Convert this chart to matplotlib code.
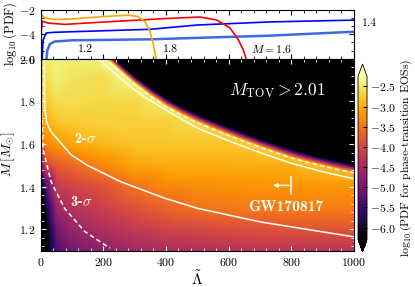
import numpy as np
import matplotlib
matplotlib.use('Agg')
import matplotlib.pyplot as plt
import matplotlib.tri as mtri
from matplotlib.ticker import MultipleLocator

plt.rcParams['font.family'] = 'serif'
plt.rcParams['font.serif'] = ['cmr10']
plt.rcParams['mathtext.fontset'] = 'cm'
plt.rcParams['axes.formatter.use_mathtext'] = True
plt.rcParams['font.size'] = 8.5

# ---------------------------------------------------------------
# top panel: log10 PDF of Lambda for fixed masses
lam_m12 = [18, 22, 30, 45, 100, 350, 500, 730, 1000]
pdf_m12 = [-6.2, -5.3, -4.8, -4.6, -4.5, -4.42, -4.3, -4.12, -3.8]
lam_m14 = [5, 8, 18, 40, 100, 200, 350, 500, 730, 1000]
pdf_m14 = [-6.2, -4.5, -3.9, -3.85, -3.8, -3.72, -3.6, -3.25, -3.0, -2.85]
lam_m16 = [1, 3, 6, 24, 77, 152, 311, 400, 509, 562, 604, 631, 647, 658]
pdf_m16 = [-6.2, -3.6, -2.95, -3.09, -3.2, -3.08, -2.85, -2.72, -2.6, -2.84, -3.48, -4.45, -5.29, -6.2]
lam_m18 = [0, 3, 13, 45, 98, 205, 279, 311, 332, 348, 359, 366, 371]
pdf_m18 = [-2.05, -2.4, -2.65, -2.8, -2.76, -2.55, -2.45, -2.55, -2.95, -3.7, -4.7, -5.6, -6.2]

# ---------------------------------------------------------------
# main panel: log10 PDF over (Lambda, M), NaN = too close to the edge
lam_grid = [0, 15, 50, 100, 200, 300, 400, 500, 600, 700, 800, 900, 1000]
m_grid = [1.1, 1.2, 1.3, 1.4, 1.5, 1.6, 1.7, 1.8, 1.9, 2.0]
nan = np.nan
pdf_grid = [
    [-6.8, -6.3, -5.3, -5.0, -4.75, -4.55, -4.45, -4.4, -4.35, -4.3, -4.3, -4.3, -4.3],
    [-6.8, -6.3, -5.0, -4.65, -4.4, -4.2, -4.05, -3.97, -3.92, -3.88, -3.85, -3.82, -3.8],
    [-6.8, -6.0, -4.6, -4.35, -4.1, -3.85, -3.65, -3.5, -3.45, -3.42, -3.4, -3.4, -3.4],
    [-6.5, -5.3, -4.2, -4.05, -3.85, -3.5, -3.32, -3.25, -3.22, -3.2, -3.2, -3.18, -3.18],
    [-5.0, -4.0, -3.75, -3.6, -3.3, -3.05, -3.0, -3.0, -3.0, -3.0, -2.98, nan, nan],
    [-3.4, -3.3, -3.15, -3.05, -2.9, -2.8, -2.8, -2.8, -2.8, nan, nan, -7, -7],
    [-3.2, -3.0, -2.8, -2.75, -2.7, -2.72, -2.72, nan, nan, -7, -7, -7, -7],
    [-3.0, -2.75, -2.6, -2.6, -2.65, -2.65, nan, -7, -7, -7, -7, -7, -7],
    [-2.9, -2.6, -2.45, -2.55, -2.6, nan, -7, -7, -7, -7, -7, -7, -7],
    [-2.9, -2.5, -2.4, -2.45, nan, -7, -7, -7, -7, -7, -7, -7, -7],
]

# edge of the allowed region: bright on the dashed line, dark a little above it
edge_lam = [185, 205, 230, 260, 300, 350, 400, 450, 500, 550, 600, 650, 700, 750,
            800, 850, 900, 950, 1000, 1040]
edge_m_bright = [2.03, 2.0, 1.97, 1.93, 1.88, 1.825, 1.775, 1.735, 1.70, 1.67, 1.64, 1.612,
                 1.585, 1.56, 1.535, 1.515, 1.497, 1.48, 1.465, 1.455]
edge_m_dark = [2.07, 2.04, 2.01, 1.97, 1.92, 1.866, 1.818, 1.778, 1.743, 1.713, 1.683, 1.656,
               1.629, 1.604, 1.58, 1.56, 1.542, 1.525, 1.51, 1.5]
edge_pdf = [-2.35, -2.35, -2.35, -2.4, -2.45, -2.5, -2.55, -2.6, -2.65, -2.68, -2.7, -2.72,
            -2.75, -2.78, -2.8, -2.82, -2.85, -2.88, -2.9, -2.9]
dark_pdf = -7.0

# 2-sigma (solid) and 3-sigma (dashed) contours
s2_low_lam = [12, 13, 20, 34, 98, 151, 258, 396, 502, 705, 1000]
s2_low_m = [2.0, 1.78, 1.70, 1.657, 1.549, 1.499, 1.422, 1.346, 1.298, 1.234, 1.165]
s2_up_lam = [183, 290, 343, 417, 500, 600, 700, 800, 900, 1000]
s2_up_m = [2.0, 1.865, 1.81, 1.745, 1.675, 1.615, 1.56, 1.51, 1.47, 1.437]
s3_low_lam = [2, 4, 8, 34, 77, 141, 221]
s3_low_m = [2.0, 1.75, 1.577, 1.422, 1.298, 1.19, 1.112]

# ---------------------------------------------------------------
fig = plt.figure(figsize=(4.15, 2.87), dpi=100)
ax_top = fig.add_axes([0.0976, 0.7955, 0.7554, 0.1707])
ax = fig.add_axes([0.0976, 0.1265, 0.7554, 0.669])
cax = fig.add_axes([0.8627, 0.122, 0.0217, 0.655])

# top panel
ax_top.plot(lam_m12, pdf_m12, color='royalblue', lw=1.8)
ax_top.plot(lam_m14, pdf_m14, color='blue', lw=1.2)
ax_top.plot(lam_m16, pdf_m16, color='red', lw=1.2)
ax_top.plot(lam_m18, pdf_m18, color='orange', lw=1.2)
ax_top.text(143, -5.2, '1.2', ha='center', va='center')
ax_top.text(415, -5.2, '1.8', ha='center', va='center')
ax_top.text(737, -5.2, r'$M = 1.6$', ha='center', va='center')
ax_top.text(1025, -3.1, '1.4', ha='left', va='center', clip_on=False)
ax_top.set_xlim(0, 1000)
ax_top.set_ylim(-6, -2)
ax_top.set_yticks([-6, -4, -2])
ax_top.yaxis.set_minor_locator(MultipleLocator(2 / 3))
ax_top.xaxis.set_major_locator(MultipleLocator(200))
ax_top.xaxis.set_minor_locator(MultipleLocator(40))
ax_top.tick_params(which='both', direction='in', top=True, right=True, labelbottom=False)
ax_top.tick_params(which='major', length=3.5)
ax_top.tick_params(which='minor', length=2)
ax_top.set_ylabel(r'$\log_{10}(\mathrm{PDF})$', fontsize=9, labelpad=0)

# main panel: linear interpolation of the sampled values on a triangulation
lam_pts = np.concatenate([np.tile(lam_grid, len(m_grid)), edge_lam, edge_lam])
m_pts = np.concatenate([np.repeat(m_grid, len(lam_grid)), edge_m_bright, edge_m_dark])
val_pts = np.concatenate([np.ravel(pdf_grid), edge_pdf, np.full(len(edge_lam), dark_pdf)])
ok = ~np.isnan(val_pts)
lam_ok, m_ok, val_ok = lam_pts[ok], m_pts[ok], val_pts[ok]
# triangulate in screen-like units so the mesh is not stretched
tri_px = mtri.Triangulation(lam_ok * 0.3135, m_ok * 215.0)
tri = mtri.Triangulation(lam_ok, m_ok, tri_px.triangles)
interp = mtri.LinearTriInterpolator(tri, val_ok)
LAM, MM = np.meshgrid(np.linspace(0, 1000, 600), np.linspace(1.1, 2.0, 400))
Z = interp(LAM, MM)
im = ax.imshow(Z, extent=[0, 1000, 1.1, 2.0], origin='lower', aspect='auto',
               cmap='inferno', vmin=-6.3, vmax=-2.25, interpolation='bilinear')

ax.plot(s2_low_lam, s2_low_m, color='white', lw=1.1)
ax.plot(s2_up_lam, s2_up_m, color='white', lw=1.1)
ax.plot(s3_low_lam, s3_low_m, color='white', lw=1.1, ls=(0, (3, 2)))
ax.plot(edge_lam, edge_m_bright, color='white', lw=1.1, ls=(0, (3, 2)))

ax.text(756, 1.851, r'$M_{\rm TOV} > \mathbf{2.01}$', color='white', fontsize=12.5,
        ha='center', va='center')
ax.text(141, 1.623, r'2-$\sigma$', color='white', fontsize=10.5, family='cmb10',
        ha='center', va='center')
ax.text(130, 1.326, r'3-$\sigma$', color='white', fontsize=10.5, family='cmb10',
        ha='center', va='center')
ax.text(782, 1.306, 'GW170817', color='white', fontsize=11.3, family='cmb10',
        ha='center', va='center')
ax.plot([800, 800], [1.367, 1.445], color='white', lw=1.1)
ax.annotate('', xy=(733, 1.406), xytext=(801, 1.406),
            arrowprops=dict(arrowstyle='-|>', color='white', lw=1.1, mutation_scale=6))

ax.set_xlim(0, 1000)
ax.set_ylim(1.1, 2.0)
ax.xaxis.set_major_locator(MultipleLocator(200))
ax.xaxis.set_minor_locator(MultipleLocator(40))
ax.yaxis.set_major_locator(MultipleLocator(0.2))
ax.yaxis.set_minor_locator(MultipleLocator(0.04))
ax.tick_params(which='both', direction='in', top=True, right=True, color='white')
ax.tick_params(which='major', length=3.5)
ax.tick_params(which='minor', length=2)
ax.set_xlabel(r'$\tilde{\Lambda}$', fontsize=11, labelpad=1)
ax.set_ylabel(r'$M\,[M_{\odot}]$', fontsize=10, labelpad=1)

cb = fig.colorbar(im, cax=cax, extend='both', extendfrac=0.075)
cb.set_ticks(np.arange(-6.0, -2.4, 0.5))
cb.ax.tick_params(direction='in', length=3, width=0.8, pad=2, color='black')
cb.outline.set_linewidth(0.6)
cb.set_label(r'$\log_{10}$(PDF for phase-transition EOSs)', labelpad=2)

fig.savefig('out.png', dpi=100)
